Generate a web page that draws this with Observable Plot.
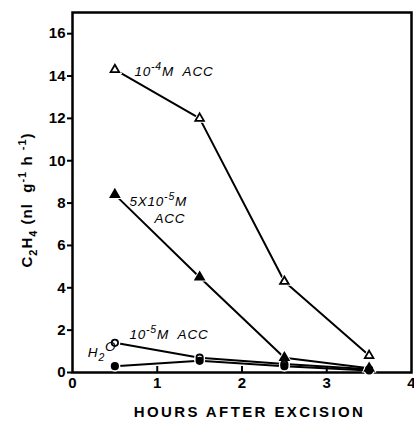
<!DOCTYPE html>
<html>
<head>
<meta charset="utf-8">
<script src="https://cdn.jsdelivr.net/npm/d3@7"></script>
<script src="https://cdn.jsdelivr.net/npm/@observablehq/plot@0.6"></script>
<style>
  html, body { margin: 0; padding: 0; background: #fff; }
  svg { display: block; }
</style>
</head>
<body>
<div id="chart"></div>
<script>
// Data
const hours = [0.5, 1.5, 2.5, 3.5];
const acc4 = [14.3, 12.0, 4.3, 0.8];     // 10^-4 M ACC (open triangle)
const acc5x = [8.4, 4.5, 0.7, 0.2];      // 5x10^-5 M ACC (filled triangle)
const acc5 = [1.4, 0.7, 0.4, 0.15];      // 10^-5 M ACC (open circle)
const water = [0.3, 0.55, 0.3, 0.1];     // H2O (filled circle)
const xTicks = [0, 1, 2, 3, 4];
const yTicks = [0, 2, 4, 6, 8, 10, 12, 14, 16];

const seriesNames = ["acc4", "acc5x", "acc5", "water"];
const seriesValues = [acc4, acc5x, acc5, water];
const seriesSymbols = ["triangle", "triangle", "circle", "circle"];
const seriesFilled = [false, true, false, true];

const rows = [];
seriesNames.forEach((s, i) => hours.forEach((h, j) => rows.push({
  series: s, x: h, y: seriesValues[i][j], symbol: seriesSymbols[i], filled: seriesFilled[i]
})));

// series labels: parts [text, kind] where kind: n normal, sup, sub
const labelDefs = [
  {series: "acc4", parts: [["10", "n"], ["-4", "sup"], ["M  ACC", "n"]], dx: 20, dy: 7, anchor: "start"},
  {series: "acc5x", parts: [["5X10", "n"], ["-5", "sup"], ["M", "n"]], dx: 15, dy: 12, anchor: "start"},
  {series: "acc5x", parts: [["ACC", "n"]], dx: 40, dy: 29, anchor: "start"},
  {series: "acc5", parts: [["10", "n"], ["-5", "sup"], ["M  ACC", "n"]], dx: 15, dy: -3, anchor: "start"},
  {series: "water", parts: [["H", "n"], ["2", "sub"], ["O", "sup"]], dx: 2, dy: -9, anchor: "end"}
];

const W = 414, H = 421, mt = 12, mb = 49, ml = 72, mr = 3;
const font = "'Liberation Sans', Arial, sans-serif";

const chart = Plot.plot({
  width: W, height: H,
  marginTop: mt, marginBottom: mb, marginLeft: ml, marginRight: mr,
  style: {fontFamily: font, background: "#fff", color: "#000"},
  x: {domain: [0, 4]},
  y: {domain: [0, 17]},
  marks: [
    Plot.frame({stroke: "#000", strokeWidth: 2.5}),
    Plot.axisY({ticks: yTicks, tickFormat: d => String(d), tickSize: 5, tickPadding: 2, fontSize: 15, fontWeight: "bold", label: null, strokeWidth: 2}),
    Plot.axisX({ticks: xTicks, tickFormat: d => String(d), tickSize: 0, tickPadding: 5, fontSize: 15, fontWeight: "bold", label: null}),
    Plot.ruleX(xTicks.filter(t => t > 0 && t < 4), {x: d => d, insetTop: H - mt - mb - 6, stroke: "#000", strokeWidth: 2}),
    Plot.line(rows, {x: "x", y: "y", z: "series", stroke: "#000", strokeWidth: 2}),
    Plot.dot(rows, {x: "x", y: "y", symbol: "symbol", r: 5.5, fill: "#fff", stroke: "none"}),
    Plot.dot(rows, {x: "x", y: "y", symbol: "symbol", r: 3.2, fill: d => d.filled ? "#000" : "#fff", stroke: "#000", strokeWidth: 1.8})
  ]
});

document.getElementById("chart").appendChild(chart);

const svg = d3.select(chart);
const sx = chart.scale("x"), sy = chart.scale("y");

// series labels placed via the chart's own scales
labelDefs.forEach(l => {
  const i = seriesNames.indexOf(l.series);
  const px = sx.apply(hours[0]) + l.dx;
  const py = sy.apply(seriesValues[i][0]) + l.dy;
  const t = svg.append("text")
    .attr("x", px).attr("y", py)
    .attr("text-anchor", l.anchor)
    .attr("font-family", font)
    .attr("font-size", 13.5)
    .attr("font-style", "italic")
    .attr("letter-spacing", 0.8);
  let shift = 0;
  l.parts.forEach(([txt, kind]) => {
    const target = kind === "sup" ? -6 : kind === "sub" ? 4 : 0;
    const ts = t.append("tspan").attr("dy", target - shift).text(txt);
    if (kind === "sup" && txt.startsWith("-")) ts.attr("font-size", 10.5);
    if (kind === "sub") ts.attr("font-size", 10.5);
    shift = target;
  });
});

// Axis titles
svg.append("text")
  .attr("x", ml + (W - ml - mr) / 2 + 8)
  .attr("y", H - 4)
  .attr("text-anchor", "middle")
  .attr("font-family", font)
  .attr("font-size", 15)
  .attr("font-weight", "bold")
  .attr("letter-spacing", 2.4)
  .text("HOURS AFTER EXCISION");

const yt = svg.append("text")
  .attr("transform", "translate(32,200) rotate(-90)")
  .attr("text-anchor", "middle")
  .attr("font-family", font)
  .attr("font-size", 15)
  .attr("font-weight", "bold")
  .attr("letter-spacing", 1);
yt.append("tspan").text("C");
yt.append("tspan").attr("font-size", 11).attr("dy", 5).text("2");
yt.append("tspan").attr("dy", -5).text("H");
yt.append("tspan").attr("font-size", 11).attr("dy", 5).text("4");
yt.append("tspan").attr("dy", -5).text(" (nl  g");
yt.append("tspan").attr("font-size", 11).attr("dy", -6).text("-1");
yt.append("tspan").attr("dy", 6).text(" h ");
yt.append("tspan").attr("font-size", 11).attr("dy", -6).text("-1");
yt.append("tspan").attr("dy", 6).text(")");
</script>
</body>
</html>
